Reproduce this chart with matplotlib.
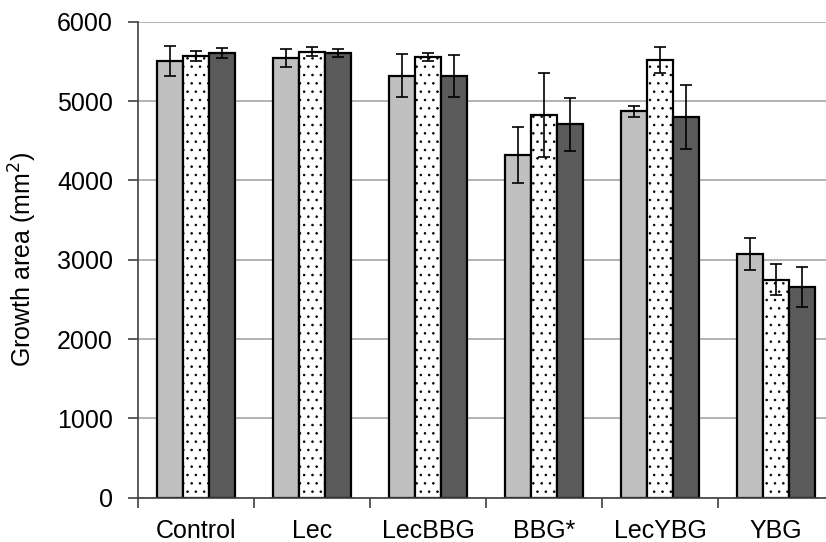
import matplotlib
matplotlib.use("Agg")
import matplotlib.pyplot as plt
import numpy as np

plt.rcParams["font.family"] = ["Liberation Sans", "DejaVu Sans"]
plt.rcParams["hatch.linewidth"] = 0.6
plt.rcParams["hatch.color"] = "black"

# ----- Data -----------------------------------------------------------------

categories = ["Control", "Lec", "LecBBG", "BBG*", "LecYBG", "YBG"]

series_a = [5500, 5540, 5320, 4320, 4870, 3070]
series_a_err = [190, 110, 270, 350, 65, 205]

series_b = [5570, 5620, 5555, 4825, 5515, 2745]
series_b_err = [60, 55, 55, 525, 165, 195]

series_c = [5605, 5603, 5318, 4705, 4795, 2652]
series_c_err = [65, 48, 265, 335, 405, 252]

yticks = [0, 1000, 2000, 3000, 4000, 5000, 6000]

# ----- Plot -----------------------------------------------------------------

FS = 18

fig = plt.figure(figsize=(8.26, 5.42), dpi=100)
ax = fig.add_axes([138 / 826, 44.3 / 542, 696 / 826, 476 / 542])

x = np.arange(len(categories))
w = 0.224

bar_kw = dict(edgecolor="black", linewidth=1.6, zorder=2)
err_kw = dict(ecolor="black", elinewidth=1.2, capsize=4.5, capthick=1.2)

ax.bar(x - w, series_a, w, color="#c0c0c0", yerr=series_a_err,
       error_kw=err_kw, **bar_kw)
ax.bar(x, series_b, w, color="white", hatch="..", yerr=series_b_err,
       error_kw=err_kw, **bar_kw)
ax.bar(x + w, series_c, w, color="#5a5a5a", yerr=series_c_err,
       error_kw=err_kw, **bar_kw)

ax.set_xlim(-0.5, len(categories) - 0.5)
ax.set_ylim(0, 6000)
ax.set_yticks(yticks)
ax.yaxis.grid(True, color="#a6a6a6", linewidth=1.2, zorder=0)
ax.set_axisbelow(True)

# category labels centred, ticks at group boundaries
ax.set_xticks(np.arange(len(categories) + 1) - 0.5)
ax.set_xticklabels([])
ax.set_xticks(x, minor=True)
ax.set_xticklabels(categories, minor=True, fontsize=FS)
ax.tick_params(axis="x", which="minor", length=0, pad=15)
ax.tick_params(axis="x", which="major", length=7, width=1.2, color="#404040")
ax.tick_params(axis="y", length=7, width=1.2, color="#404040",
               labelsize=FS, pad=11)

for s in ["top", "right"]:
    ax.spines[s].set_visible(False)
for s in ["left", "bottom"]:
    ax.spines[s].set_color("#404040")
    ax.spines[s].set_linewidth(1.2)

ax.set_ylabel("Growth area (mm$^2$)", fontsize=FS, labelpad=13)

fig.savefig("out.png", dpi=100)
